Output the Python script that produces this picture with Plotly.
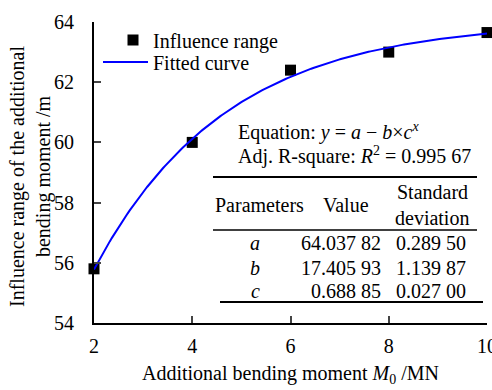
import plotly.graph_objects as go
import numpy as np

# ---- data ----
moment = [2, 4, 6, 8, 10]
influence = [55.8, 60.0, 62.4, 63.0, 63.65]

param_names = ["a", "b", "c"]
param_values = [64.03782, 17.40593, 0.68885]
param_values_txt = ["64.037 82", "17.405 93", "0.688 85"]
param_sd_txt = ["0.289 50", "1.139 87", "0.027 00"]
r2_txt = "0.995 67"
y_title = "Influence range of the additional<br>bending moment /m"
x_title = "Additional bending moment <i>M</i><sub>0</sub> /MN"

a, b, c = param_values
x_fit = np.linspace(2, 10, 200)
y_fit = a - b * c ** x_fit

W, H = 492, 390
L, R, T, B = 94, 5, 22, 67
PW, PH = W - L - R, H - T - B

def px(x):
    return (x - L) / PW

def py(y):
    return 1 - (y - T) / PH

FONT = "Liberation Serif, Times New Roman, serif"
FS = 20

fig = go.Figure()
fig.add_trace(go.Scatter(x=moment, y=influence, mode="markers", name="Influence range",
                         marker=dict(symbol="square", size=11, color="black"),
                         cliponaxis=False, legend="legend"))
fig.add_trace(go.Scatter(x=x_fit, y=y_fit, mode="lines", name="Fitted curve",
                         line=dict(color="#0000ff", width=2), cliponaxis=False, legend="legend2"))

ann = []
def txt(x, y, s, xanchor="left", angle=0):
    ann.append(dict(x=px(x), y=py(y), xref="paper", yref="paper", text=s, showarrow=False,
                    xanchor=xanchor, yanchor="middle", textangle=angle, align="center",
                    font=dict(family=FONT, size=FS, color="black")))

txt(30, 177, y_title, "center", -90)
txt(236, 131, "Equation: <i>y</i> = <i>a</i> − <i>b</i>×<i>c</i><sup><i>x</i></sup>")
txt(236, 155, "Adj. R-square: <i>R</i><sup>2</sup> = " + r2_txt)
txt(213, 205, "Parameters")
txt(346, 205, "Value", "center")
txt(432, 192, "Standard", "center")
txt(432, 218, "deviation", "center")
rows_y = [243, 268, 291]
for i in range(3):
    txt(255, rows_y[i], "<i>" + param_names[i] + "</i>", "center")
    txt(383, rows_y[i], param_values_txt[i], "right")
    txt(468, rows_y[i], param_sd_txt[i], "right")

shapes = []
def hline(x0, x1, y, w):
    shapes.append(dict(type="line", xref="paper", yref="paper", x0=px(x0), x1=px(x1),
                       y0=py(y), y1=py(y), line=dict(color="black", width=w)))
hline(213, 477, 177, 2)
hline(213, 477, 230, 1.3)
hline(220, 483, 302, 2)

leg_common = dict(xanchor="left", yanchor="middle", bgcolor="rgba(0,0,0,0)",
                  font=dict(family=FONT, size=FS, color="black"), borderwidth=0)

fig.update_layout(
    width=W, height=H, margin=dict(l=L, r=R, t=T, b=B, autoexpand=False),
    paper_bgcolor="white", plot_bgcolor="white",
    font=dict(family=FONT, size=FS, color="black"),
    showlegend=True,
    legend=dict(x=px(113), y=py(40), **leg_common),
    legend2=dict(x=px(98), y=py(62), itemwidth=45, **leg_common),
    annotations=ann, shapes=shapes,
    xaxis=dict(range=[2, 10], tickvals=[2, 4, 6, 8, 10], ticks="inside", ticklen=7, tickwidth=2,
               showline=True, linecolor="black", linewidth=2, showgrid=False, zeroline=False,
               automargin=True,
               tickfont=dict(size=FS), ticklabelstandoff=4, ticklabeloverflow="allow",
               title=dict(text=x_title, standoff=10, font=dict(size=FS))),
    yaxis=dict(range=[54, 64], tickvals=[54, 56, 58, 60, 62, 64], ticks="inside", ticklen=7, tickwidth=2,
               showline=True, linecolor="black", linewidth=2, showgrid=False, zeroline=False,
               automargin=True,
               tickfont=dict(size=FS), ticklabelstandoff=14),
)

fig.write_html("out.html")
